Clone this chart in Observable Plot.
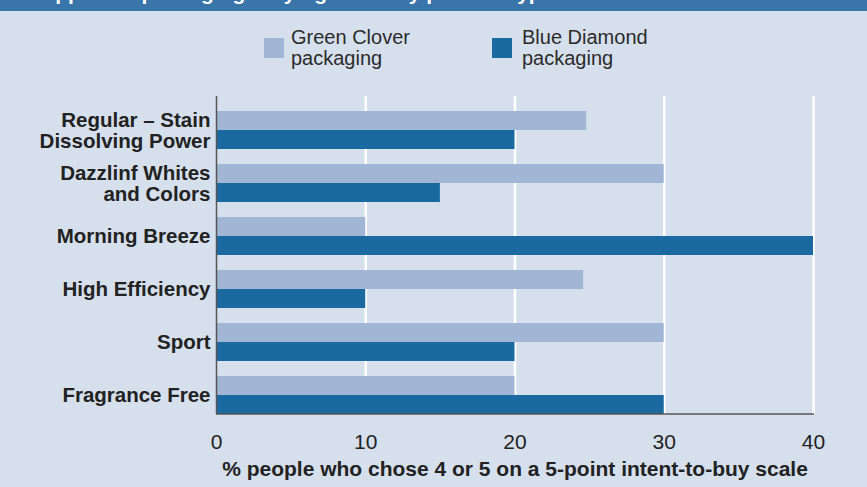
<!DOCTYPE html>
<html>
<head>
<meta charset="utf-8">
<script src="https://cdn.jsdelivr.net/npm/d3@7"></script>
<script src="https://cdn.jsdelivr.net/npm/@observablehq/plot@0.6"></script>
<style>
  html, body { margin: 0; padding: 0; }
  body { width: 867px; height: 487px; background: #d6e0ed; position: relative; overflow: hidden; font-family: "Liberation Sans", Arial, sans-serif; }
  #band { position: absolute; left: 0; top: 0; width: 867px; height: 11px; background: #3a75a9; overflow: hidden; }
  #band span { position: absolute; left: 40px; top: -19px; color: #fff; font-weight: bold; font-size: 21px; line-height: 24px; white-space: nowrap; }
  .sw { position: absolute; width: 20px; height: 20px; }
  .lt { position: absolute; font-size: 20px; line-height: 20.5px; color: #2b2b2b; font-family: "Liberation Sans Narrow", "Liberation Sans", sans-serif; white-space: nowrap; }
  #chart { position: absolute; left: 0; top: 85px; }
</style>
</head>
<body>
<div id="band"><span>Appeal of packaging: buying intent by product type</span></div>
<div id="legend"></div>
<div id="chart"></div>
<script>
const categories = ["Regular – Stain\nDissolving Power", "Dazzlinf Whites\nand Colors", "Morning Breeze", "High Efficiency", "Sport", "Fragrance Free"];
const greenClover = [24.8, 30, 10, 24.6, 30, 20];
const blueDiamond = [20, 15, 40, 10, 20, 30];
const seriesNames = ["Green Clover\npackaging", "Blue Diamond\npackaging"];
const seriesColors = ["#a1b6d5", "#1a6aa1"];
const xTicks = [0, 10, 20, 30, 40];
const xLabel = "% people who chose 4 or 5 on a 5-point intent-to-buy scale";

// legend
const legend = document.getElementById("legend");
const legendPos = [{sx: 264, tx: 291}, {sx: 492, tx: 522}];
seriesNames.forEach((name, i) => {
  const sw = document.createElement("div");
  sw.className = "sw";
  sw.style.left = legendPos[i].sx + "px";
  sw.style.top = "38px";
  sw.style.background = seriesColors[i];
  legend.appendChild(sw);
  const t = document.createElement("div");
  t.className = "lt";
  t.style.left = legendPos[i].tx + "px";
  t.style.top = "27px";
  t.innerHTML = name.replace("\n", "<br>");
  legend.appendChild(t);
});

const green = categories.map((c, i) => ({cat: c, v: greenClover[i]}));
const blue = categories.map((c, i) => ({cat: c, v: blueDiamond[i]}));

const ML = 216, MR = 54, H = 402, MT = 11, MB = 73;
const chart = Plot.plot({
  width: 867,
  height: H,
  marginTop: MT,
  marginBottom: MB,
  marginLeft: ML,
  marginRight: MR,
  style: {background: "transparent", fontFamily: "Liberation Sans, Arial, sans-serif", color: "#222"},
  x: {domain: [0, 40]},
  y: {domain: categories, paddingInner: 0.283, paddingOuter: 0.1415, align: 1},
  marks: [
    Plot.gridX(xTicks.slice(1), {stroke: "white", strokeWidth: 2.5, strokeOpacity: 1}),
    Plot.barX(green, {x: "v", y: "cat", fill: seriesColors[0], insetBottom: 19}),
    Plot.barX(blue, {x: "v", y: "cat", fill: seriesColors[1], insetTop: 19}),
    Plot.ruleX([0], {stroke: "#555", strokeWidth: 1.5}),
    Plot.axisY({tickSize: 0, tickPadding: 6, fontSize: 20.5, fontWeight: "bold", lineHeight: 1.03, label: null}),
    Plot.axisX(xTicks, {tickSize: 0, tickPadding: 20, fontSize: 21, fontFamily: "Liberation Sans Narrow, Liberation Sans, sans-serif", label: null}),
    Plot.text([xLabel], {frameAnchor: "bottom", dy: 61, fontSize: 21, fontWeight: "bold", fontFamily: "Liberation Sans Narrow, Liberation Sans, sans-serif", fill: "#222"})
  ]
});
document.getElementById("chart").appendChild(chart);
// bottom axis line
d3.select(chart).append("line")
  .attr("x1", ML).attr("x2", 867 - MR + 1)
  .attr("y1", H - MB).attr("y2", H - MB)
  .attr("stroke", "#555").attr("stroke-width", 1.5);
</script>
</body>
</html>
